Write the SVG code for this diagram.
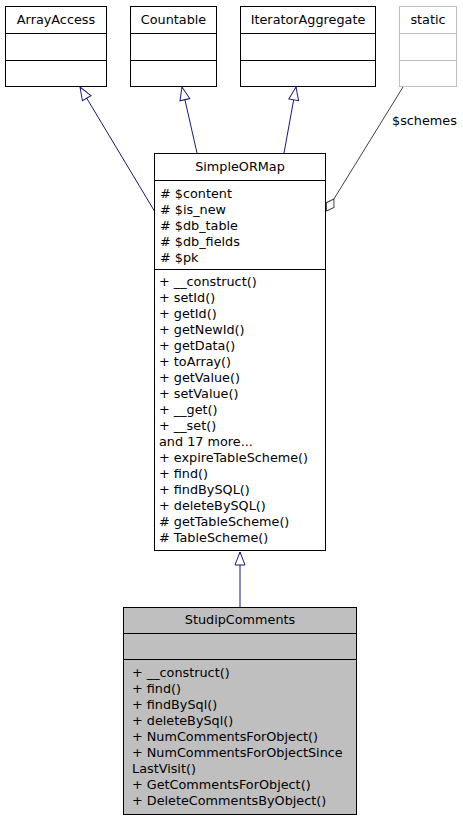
<svg xmlns="http://www.w3.org/2000/svg" width="463" height="821" viewBox="0 0 463 821">
<style>
  .box { fill: #ffffff; stroke: #000000; stroke-width: 1; }
  .sep { stroke: #000000; stroke-width: 1; fill: none; }
  .gbox { fill: #ffffff; stroke: #bfbfbf; stroke-width: 1; }
  .gsep { stroke: #bfbfbf; stroke-width: 1; fill: none; }
  .cur { fill: #bfbfbf; stroke: #000000; stroke-width: 1; }
  text { font-family: "DejaVu Sans", "Liberation Sans", sans-serif; font-size: 12.8px; fill: #000000; }
  .t { text-anchor: middle; }
  .inh { stroke: #191970; stroke-width: 1; fill: none; marker-end: url(#inherit); }
  .agg { stroke: #404040; stroke-width: 1; fill: none; marker-end: url(#diamond); }
</style>
<defs>
  <marker id="inherit" markerUnits="userSpaceOnUse" markerWidth="16" markerHeight="14" refX="14" refY="7" orient="auto" overflow="visible">
    <path d="M1,2 L14,7 L1,12 Z" fill="#ffffff" stroke="#191970" stroke-width="1"/>
  </marker>
  <marker id="diamond" markerUnits="userSpaceOnUse" markerWidth="16" markerHeight="12" refX="14" refY="5" orient="auto" overflow="visible">
    <path d="M0,5 L7,0.5 L14,5 L7,9.5 Z" fill="#ffffff" stroke="#404040" stroke-width="1"/>
  </marker>
</defs>
<rect width="463" height="821" fill="#ffffff"/>

<g id="connectors">
  <path class="inh" d="M155,212 L80,87"/>
  <path class="inh" d="M197,153 L182,87"/>
  <path class="inh" d="M284,153 L296,87"/>
  <path class="inh" d="M240,607 L240,552"/>
  <path class="agg" d="M403,87 L326.5,211"/>
  <text x="392" y="125">$schemes</text>
</g>

<g id="ArrayAccess">
  <rect class="box" x="5.5" y="6.5" width="101" height="80"/>
  <path class="sep" d="M5.5,33.5 H106.5 M5.5,60.5 H106.5"/>
  <text class="t" x="56" y="24">ArrayAccess</text>
</g>

<g id="Countable">
  <rect class="box" x="130.5" y="6.5" width="86" height="80"/>
  <path class="sep" d="M130.5,33.5 H216.5 M130.5,60.5 H216.5"/>
  <text class="t" x="173.5" y="24">Countable</text>
</g>

<g id="IteratorAggregate">
  <rect class="box" x="240.5" y="6.5" width="135" height="80"/>
  <path class="sep" d="M240.5,33.5 H375.5 M240.5,60.5 H375.5"/>
  <text class="t" x="308" y="24">IteratorAggregate</text>
</g>

<g id="static">
  <rect class="gbox" x="399.5" y="6.5" width="57" height="80"/>
  <path class="gsep" d="M399.5,33.5 H456.5 M399.5,60.5 H456.5"/>
  <text class="t" x="428" y="24">static</text>
</g>

<g id="SimpleORMap">
  <rect class="box" x="154.5" y="153.5" width="171" height="397"/>
  <path class="sep" d="M154.5,180.5 H325.5 M154.5,269.5 H325.5"/>
  <text class="t" x="240" y="171">SimpleORMap</text>
  <text x="160" y="198"># $content</text>
  <text x="160" y="214"># $is_new</text>
  <text x="160" y="230"># $db_table</text>
  <text x="160" y="246"># $db_fields</text>
  <text x="160" y="262"># $pk</text>
  <text x="159" y="286">+ __construct()</text>
  <text x="159" y="302">+ setId()</text>
  <text x="159" y="318">+ getId()</text>
  <text x="159" y="334">+ getNewId()</text>
  <text x="159" y="350">+ getData()</text>
  <text x="159" y="366">+ toArray()</text>
  <text x="159" y="382">+ getValue()</text>
  <text x="159" y="398">+ setValue()</text>
  <text x="159" y="414">+ __get()</text>
  <text x="159" y="430">+ __set()</text>
  <text x="159" y="446">and 17 more...</text>
  <text x="159" y="462">+ expireTableScheme()</text>
  <text x="159" y="478">+ find()</text>
  <text x="159" y="494">+ findBySQL()</text>
  <text x="159" y="510">+ deleteBySQL()</text>
  <text x="159" y="526"># getTableScheme()</text>
  <text x="159" y="542"># TableScheme()</text>
</g>

<g id="StudipComments">
  <rect class="cur" x="123.5" y="607.5" width="233" height="207"/>
  <path class="sep" d="M123.5,633.5 H356.5 M123.5,659.5 H356.5"/>
  <text class="t" x="240" y="624">StudipComments</text>
  <text x="132" y="677">+ __construct()</text>
  <text x="132" y="693">+ find()</text>
  <text x="132" y="709">+ findBySql()</text>
  <text x="132" y="725">+ deleteBySql()</text>
  <text x="132" y="741">+ NumCommentsForObject()</text>
  <text x="132" y="757">+ NumCommentsForObjectSince</text>
  <text x="132" y="773">LastVisit()</text>
  <text x="132" y="789">+ GetCommentsForObject()</text>
  <text x="132" y="805">+ DeleteCommentsByObject()</text>
</g>
</svg>
